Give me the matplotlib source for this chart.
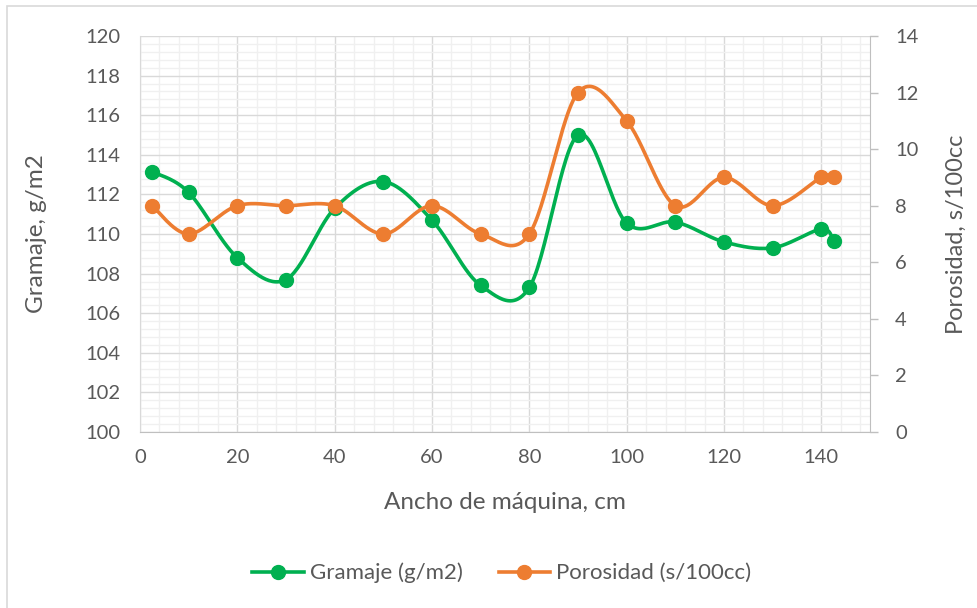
import numpy as np
import matplotlib.pyplot as plt
from matplotlib.patches import Rectangle
from matplotlib.ticker import MultipleLocator

plt.rcParams['font.family'] = ['Lato', 'DejaVu Sans']

# datos de la máquina
ancho = np.array([2.5, 10, 20, 30, 40, 50, 60, 70, 80, 90, 100, 110, 120, 130, 140, 142.5])
gramaje = np.array([113.15, 112.1, 108.8, 107.7, 111.3, 112.65, 110.7, 107.4,
                    107.3, 115.0, 110.55, 110.6, 109.6, 109.3, 110.25, 109.65])
porosidad = np.array([8, 7, 8, 8, 8, 7, 8, 7, 7, 12, 11, 8, 9, 8, 9, 9])

verde = '#00b050'
naranja = '#ed7d31'
gris_txt = '#595959'


def suavizar(x, y, n=30):
    # curva tipo Excel: bezier cúbica con puntos de control tipo Catmull-Rom
    px = np.concatenate([[x[0]], x, [x[-1]]])
    py = np.concatenate([[y[0]], y, [y[-1]]])
    xs, ys = [], []
    t = np.linspace(0, 1, n)
    for i in range(1, len(px) - 2):
        p0 = np.array([px[i], py[i]])
        p3 = np.array([px[i + 1], py[i + 1]])
        c1 = p0 + (np.array([px[i + 1], py[i + 1]]) - np.array([px[i - 1], py[i - 1]])) / 6
        c2 = p3 - (np.array([px[i + 2], py[i + 2]]) - np.array([px[i], py[i]])) / 6
        b = ((1 - t) ** 3)[:, None] * p0 + (3 * (1 - t) ** 2 * t)[:, None] * c1 \
            + (3 * (1 - t) * t ** 2)[:, None] * c2 + (t ** 3)[:, None] * p3
        xs.append(b[:, 0])
        ys.append(b[:, 1])
    return np.concatenate(xs), np.concatenate(ys)


fig = plt.figure(figsize=(9.77, 6.08), dpi=100)
W, H = 977, 608
ax = fig.add_axes([140 / W, 1 - 432 / H, 730 / W, 396 / H])
ax2 = ax.twinx()

# borde del área del gráfico
fig.patches.append(Rectangle((7 / W, -0.1), 1.2, 1 - 6 / H + 0.1, transform=fig.transFigure,
                             fill=False, edgecolor='#d9d9d9', lw=1.2, zorder=0))

ax.set_xlim(0, 150)
ax.set_ylim(100, 120)
ax2.set_ylim(0, 14)

ax.xaxis.set_major_locator(MultipleLocator(20))
ax.xaxis.set_minor_locator(MultipleLocator(4))
ax.yaxis.set_major_locator(MultipleLocator(2))
ax.yaxis.set_minor_locator(MultipleLocator(0.4))
ax2.yaxis.set_major_locator(MultipleLocator(2))

ax.grid(which='major', color='#d9d9d9', lw=1.0)
ax.grid(which='minor', color='#f0f0f0', lw=1.0)
ax.set_axisbelow(True)

for a in (ax, ax2):
    for s in a.spines.values():
        s.set_visible(False)
ax.spines['bottom'].set_visible(True)
ax.spines['bottom'].set_color('#bfbfbf')
ax.spines['left'].set_visible(True)
ax.spines['left'].set_color('#d9d9d9')
ax2.spines['right'].set_visible(True)
ax2.spines['right'].set_color('#bfbfbf')

ax.tick_params(axis='both', which='both', length=0, labelsize=14.5, labelcolor=gris_txt)
ax.tick_params(axis='x', pad=12)
ax.tick_params(axis='y', pad=14)
ax2.tick_params(axis='y', which='major', length=6, color='#bfbfbf', width=1,
                labelsize=14.5, labelcolor=gris_txt, pad=12)

sx, sy = suavizar(ancho, gramaje)
ax.plot(sx, sy, color=verde, lw=2.6, zorder=3)
ax.plot(ancho, gramaje, 'o', color=verde, ms=10, zorder=4)

px, py = suavizar(ancho, porosidad)
ax2.plot(px, py, color=naranja, lw=2.6, zorder=3)
ax2.plot(ancho, porosidad, 'o', color=naranja, ms=10, zorder=4)

ax.set_xlabel('Ancho de máquina, cm', fontsize=17.5, color=gris_txt, labelpad=19)
ax.set_ylabel('Gramaje, g/m2', fontsize=17.5, color=gris_txt)
ax.yaxis.set_label_coords(-0.127, 0.5)
ax2.set_ylabel('Porosidad, s/100cc', fontsize=17, color=gris_txt, labelpad=20)

h1 = plt.Line2D([], [], color=verde, lw=2.6, marker='o', ms=10)
h2 = plt.Line2D([], [], color=naranja, lw=2.6, marker='o', ms=10)
leg = fig.legend([h1, h2], ['Gramaje (g/m2)', 'Porosidad (s/100cc)'], loc='center',
                 bbox_to_anchor=(502 / W, 1 - 573 / H), ncol=2, frameon=False,
                 fontsize=16, handlelength=2.3, handletextpad=0.3, columnspacing=1.6)
for t in leg.get_texts():
    t.set_color(gris_txt)

fig.savefig('out.png', dpi=100)
